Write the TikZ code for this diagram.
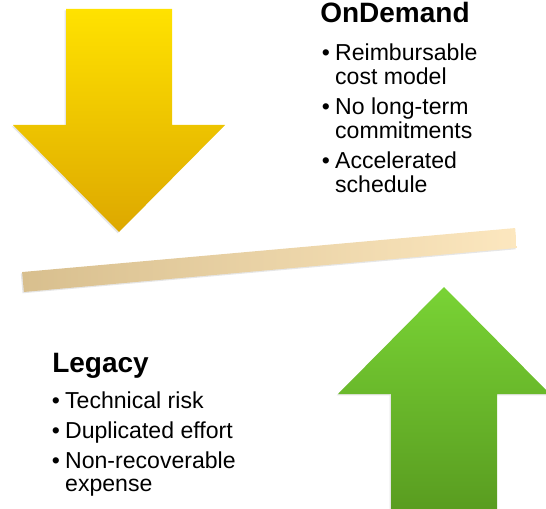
\documentclass[tikz,border=0pt]{standalone}
\usepackage{fontspec}
\setmainfont{Liberation Sans}
\usetikzlibrary{shadows}
\newcommand{\shafthalf}{53}
\newcommand{\headhalf}{106}
\newcommand{\headlength}{107}
\newcommand{\downx}{119}
\newcommand{\downtip}{276}
\newcommand{\downtop}{499}
\newcommand{\upx}{444}
\newcommand{\uptip}{221}
\newcommand{\upbottom}{-4}
\newcommand{\barx}{23}
\newcommand{\bary}{226}
\newcommand{\barlength}{495}
\newcommand{\barthick}{20}
\newcommand{\barangle}{5.1}
\newcommand{\itemgap}{5pt}
\newcommand{\itemfont}{\fontsize{17.3}{17.25}\selectfont}
\newcommand{\headfont}{\fontsize{21}{24}\selectfont\bfseries}
\definecolor{goldtop}{HTML}{FFE200}
\definecolor{goldbottom}{HTML}{DDA800}
\definecolor{greentop}{HTML}{79D335}
\definecolor{greenbottom}{HTML}{599C20}
\definecolor{tandark}{HTML}{D8BF8E}
\definecolor{tanlight}{HTML}{FCE7BF}

\begin{document}
\begin{tikzpicture}[x=0.75pt,y=0.75pt]
\tikzstyle{softshadow}=[drop shadow={opacity=0.2,shadow xshift=-1pt,shadow yshift=-1pt}]
\tikzstyle{heading}=[anchor=base west,inner sep=0pt,font=\headfont]
\tikzstyle{bulletlist}=[anchor=base west,inner sep=0pt,font=\itemfont]
\useasboundingbox (0,0) rectangle (546,508);
\clip (0,0) rectangle (546,508);

%% down arrow (gold)
\shade[softshadow,top color=goldtop,bottom color=goldbottom]
  (\downx-\shafthalf,\downtop) -- (\downx+\shafthalf,\downtop)
  -- (\downx+\shafthalf,\downtip+\headlength) -- (\downx+\headhalf,\downtip+\headlength)
  -- (\downx,\downtip) -- (\downx-\headhalf,\downtip+\headlength)
  -- (\downx-\shafthalf,\downtip+\headlength) -- cycle;

%% up arrow (green)
\shade[softshadow,top color=greentop,bottom color=greenbottom]
  (\upx-\shafthalf,\upbottom) -- (\upx-\shafthalf,\uptip-\headlength)
  -- (\upx-\headhalf,\uptip-\headlength) -- (\upx,\uptip)
  -- (\upx+\headhalf,\uptip-\headlength) -- (\upx+\shafthalf,\uptip-\headlength)
  -- (\upx+\shafthalf,\upbottom) -- cycle;

%% tilted bar
\shade[softshadow,left color=tandark,right color=tanlight,rotate around={\barangle:(\barx,\bary)}]
  (\barx,\bary-\barthick/2) rectangle (\barx+\barlength,\bary+\barthick/2);

%% OnDemand text
\node (ondemand) [heading] at (320,485) {OnDemand};
\node (ondemandlist) [bulletlist] at (321.5,447) {%
  \begin{tabular}[t]{@{}l@{\hspace{4pt}}l@{}}
  \textbullet & Reimbursable\\
              & cost model\\[\itemgap]
  \textbullet & No long-term\\
              & commitments\\[\itemgap]
  \textbullet & Accelerated\\
              & schedule
  \end{tabular}};

%% Legacy text
\node (legacy) [heading] at (52,136) {Legacy};
\node (legacylist) [bulletlist] at (51.5,100) {%
  \begin{tabular}[t]{@{}l@{\hspace{4pt}}l@{}}
  \textbullet & Technical risk\\[\itemgap]
  \textbullet & Duplicated effort\\[\itemgap]
  \textbullet & Non-recoverable\\
              & expense
  \end{tabular}};

\end{tikzpicture}
\end{document}
